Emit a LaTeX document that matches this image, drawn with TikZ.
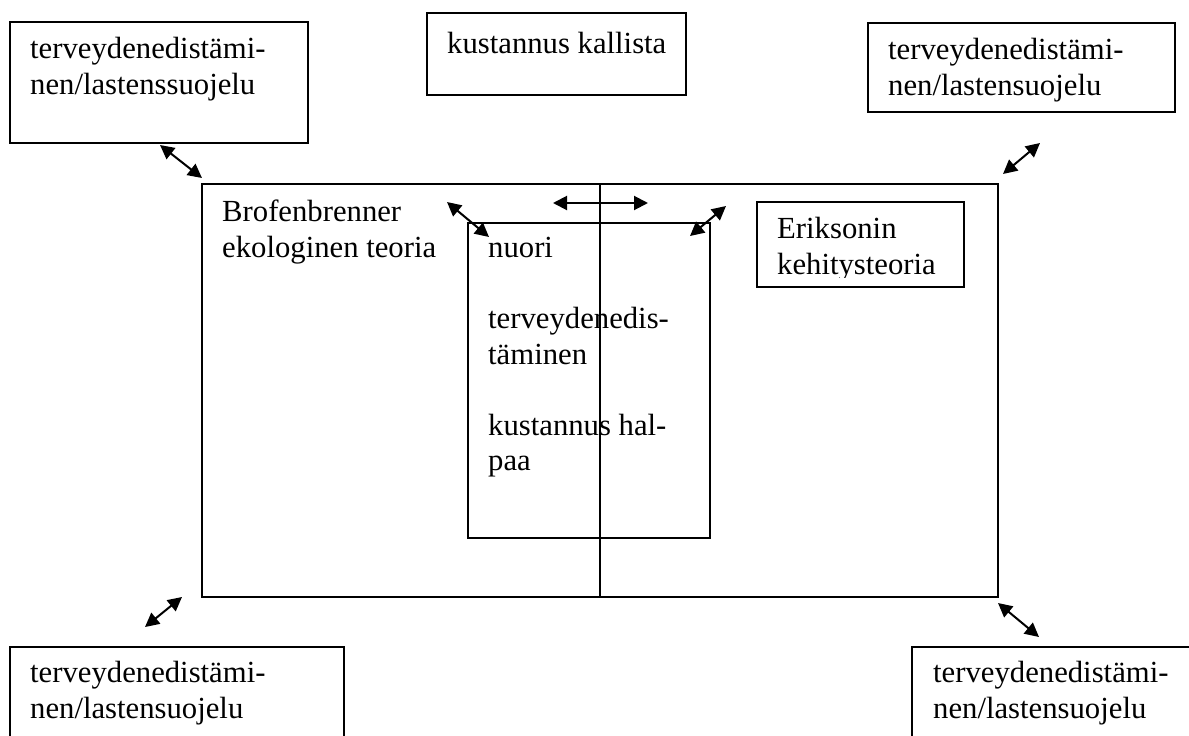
\documentclass[tikz,border=0pt]{standalone}
\usepackage{fontspec}
\setmainfont{Liberation Serif}
\usetikzlibrary{positioning, arrows.meta}
\tikzset{frame/.style={draw, line width=1.6pt, inner sep=0pt, outer sep=0pt, anchor=north west}}
% placed at the first baseline: the strut fixes the top of the first line
\tikzset{lbl/.style={anchor=north west, yshift=24.85pt, align=left, inner sep=0pt,
    execute at begin node=\strut, font=\fontsize{30.7}{35.5}\selectfont}}
\tikzset{both/.style={{Triangle[length=14pt, width=14pt]}-{Triangle[length=14pt, width=14pt]}, line width=2pt}}

\begin{document}
\begin{tikzpicture}[x=1pt, y=-1pt]
  \useasboundingbox (0,0) rectangle (1189,736);
  \clip (0,0) rectangle (1189,736);

  % ---- the ecological frame, split down the middle
  \node[frame, minimum width=796, minimum height=413] at (202,184) (eco) {};
  \node[frame, minimum width=242, minimum height=315] at (468,223) (youth) {};
  \draw[line width=1.6pt] (eco.north) -- (eco.south);
  \node[lbl] at (222,225) (brof) {Brofenbrenner\\ekologinen teoria};
  \node[lbl] at (488,262) (youtht) {nuori\\[35.5pt]terveydenedis-\\täminen\\[35.5pt]kustannus hal-\\paa};

  % ---- Erikson, text cut at the lower inset
  \node[frame, minimum width=207, minimum height=85] at (757,202) (erik) {};
  \begin{scope}
    \clip (erik.north west) rectangle ([yshift=10pt]erik.south east);
    \node[lbl] at (777,242) (erikt) {Eriksonin\\kehitysteoria};
  \end{scope}

  % ---- the outer boxes
  \node[frame, minimum width=298, minimum height=121] at (10,22) (heNW) {};
  \node[lbl] at (30,62) (heNWt) {terveydenedistämi-\\nen/lastenssuojelu};

  \node[frame, minimum width=259, minimum height=82] at (427,13) (cost) {};
  \node[lbl] at (447,53) (costt) {kustannus kallista};

  \node[frame, minimum width=307, minimum height=89] at (868,23) (heNE) {};
  \begin{scope}
    \clip (heNE.north west) rectangle ([yshift=9pt]heNE.south east);
    \node[lbl] at (888,63) (heNEt) {terveydenedistämi-\\nen/lastensuojelu};
  \end{scope}

  \node[frame, minimum width=334, minimum height=120] at (10,647) (heSW) {};
  \node[lbl] at (30,686) (heSWt) {terveydenedistämi-\\nen/lastensuojelu};

  \node[frame, minimum width=300, minimum height=120] at (912,647) (heSE) {};
  \node[lbl] at (933,686) (heSEt) {terveydenedistämi-\\nen/lastensuojelu};

  % ---- two-way links
  \coordinate (nwA) at (160,145);  \coordinate (nwB) at (202,178);
  \coordinate (neA) at (1003,174); \coordinate (neB) at (1040,143);
  \coordinate (swA) at (182,597);  \coordinate (swB) at (145,627);
  \coordinate (seA) at (998,603);  \coordinate (seB) at (1039,637);
  \coordinate (midA) at (553,203); \coordinate (midB) at (648,203);
  \coordinate (inLA) at (447,202); \coordinate (inLB) at (489,237);
  \coordinate (inRA) at (726,206); \coordinate (inRB) at (690,236);

  \draw[both] (nwA) -- (nwB);
  \draw[both] (neA) -- (neB);
  \draw[both] (swA) -- (swB);
  \draw[both] (seA) -- (seB);
  \draw[both] (midA) -- (midB);
  \draw[both] (inLA) -- (inLB);
  \draw[both] (inRA) -- (inRB);

\end{tikzpicture}
\end{document}
